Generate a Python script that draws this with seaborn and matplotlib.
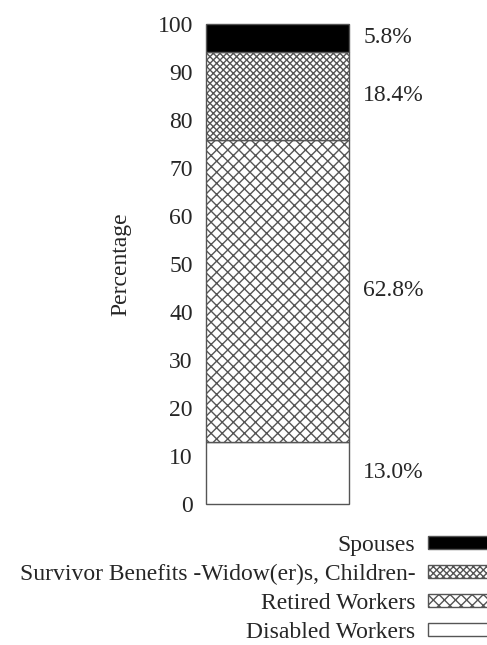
import matplotlib
matplotlib.use("Agg")
import matplotlib.pyplot as plt
import seaborn as sns
from matplotlib.patches import Patch

# stacked from bottom to top
categories = ["Disabled Workers", "Retired Workers",
              "Survivor Benefits -Widow(er)s, Children-", "Spouses"]
shares = [13.0, 62.8, 18.4, 5.8]
fills = ["white", "white", "white", "black"]
hatches = ["", "xxx", "xxxxx", ""]
yticks = [0, 10, 20, 30, 40, 50, 60, 70, 80, 90, 100]

sns.set_style("white")
plt.rcParams["font.family"] = ["Liberation Serif", "DejaVu Serif"]
plt.rcParams["hatch.linewidth"] = 1.0
plt.rcParams["hatch.color"] = "#444444"
FS = 17

fig = plt.figure(figsize=(4.87, 6.45), dpi=100)
ax = fig.add_axes([0.423, 0.2186, 0.2936, 0.7442])

bottom = 0
for cat, val, fc, h in zip(categories, shares, fills, hatches):
    sns.barplot(x=["all"], y=[val], bottom=bottom, color=fc, saturation=1,
                width=1.0, edgecolor="#555555", linewidth=1.0, hatch=h, ax=ax)
    ax.text(1.1, bottom + val / 2, f"{val:.1f}%", transform=ax.get_yaxis_transform(),
            ha="left", va="center", fontsize=FS, clip_on=False)
    bottom += val

for p in ax.patches:
    p.set_clip_on(False)

ax.set_xlim(-0.5, 0.5)
ax.set_ylim(0, 100)
ax.set_yticks(yticks)
ax.set_yticklabels([str(t) for t in yticks], fontsize=FS)
ax.tick_params(axis="y", length=0, pad=9.5)
ax.set_xticks([])
ax.set_xlabel("")
ax.set_ylabel("Percentage", fontsize=FS, labelpad=19)
sns.despine(ax=ax, left=True, bottom=True)

handles = [Patch(facecolor=fc, edgecolor="#555555", hatch=h, label=c)
           for c, fc, h in zip(categories, fills, hatches)][::-1]
fig.legend(handles=handles, loc="upper right", bbox_to_anchor=(1.025, 0.171),
           frameon=False, markerfirst=False, fontsize=FS, labelspacing=0.34,
           handlelength=3.0, handleheight=0.5, handletextpad=0.55,
           borderpad=0, borderaxespad=0)

fig.savefig("out.png", dpi=100)
